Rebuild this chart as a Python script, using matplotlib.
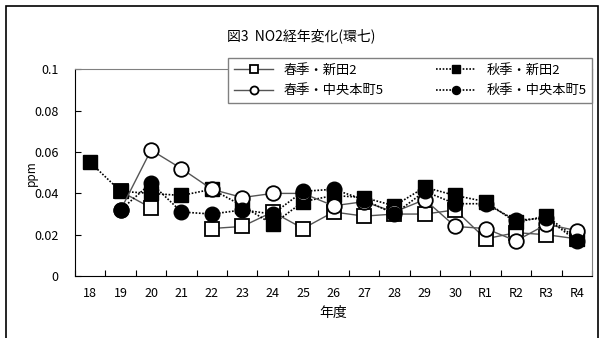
import numpy as np
import matplotlib
matplotlib.use('Agg')
import matplotlib.pyplot as plt
from matplotlib.patches import Rectangle

plt.rcParams['font.family'] = ['Noto Sans CJK JP', 'DejaVu Sans']

# 年度
years = ['18', '19', '20', '21', '22', '23', '24', '25', '26', '27', '28', '29', '30',
         'R1', 'R2', 'R3', 'R4']
nan = np.nan
# 春季・新田2
spring_nitta = [nan, 0.041, 0.033, nan, 0.023, 0.024, 0.031, 0.023, 0.031, 0.029, 0.030,
                0.030, 0.032, 0.018, 0.021, 0.020, 0.018]
# 秋季・新田2
autumn_nitta = [0.055, 0.041, 0.040, 0.039, 0.042, 0.034, 0.025, 0.036, 0.039, 0.038, 0.034,
                0.043, 0.039, 0.036, 0.026, 0.029, 0.018]
# 春季・中央本町5
spring_chuo = [nan, 0.032, 0.061, 0.052, 0.042, 0.038, 0.040, 0.040, 0.034, 0.036, 0.031,
               0.037, 0.024, 0.023, 0.017, 0.025, 0.022]
# 秋季・中央本町5
autumn_chuo = [nan, 0.032, 0.045, 0.031, 0.030, 0.032, 0.030, 0.041, 0.042, 0.037, 0.030,
               0.041, 0.035, 0.035, 0.027, 0.028, 0.017]

fig = plt.figure(figsize=(6.03, 3.38), dpi=100)
ax = fig.add_axes([0.1244, 0.1834, 0.8574, 0.611])

x = np.arange(len(years))
ms = 10.5
dots = (0, (1, 1))
l1, = ax.plot(x, spring_nitta, '-', color='#555555', lw=1, marker='s', ms=ms,
              mfc='white', mec='black', mew=1.3, zorder=2, label='春季・新田2')
l2, = ax.plot(x, autumn_nitta, ls=dots, color='black', lw=1.2, marker='s', ms=ms,
              mfc='black', mec='black', zorder=3, label='秋季・新田2')
l3, = ax.plot(x, spring_chuo, '-', color='#555555', lw=1, marker='o', ms=ms,
              mfc='white', mec='black', mew=1.3, zorder=4, label='春季・中央本町5')
l4, = ax.plot(x, autumn_chuo, ls=dots, color='black', lw=1.2, marker='o', ms=ms,
              mfc='black', mec='black', zorder=5, label='秋季・中央本町5')

ax.set_xlim(-0.5, len(years) - 0.5)
ax.set_ylim(0, 0.1)
ax.set_yticks([0, 0.02, 0.04, 0.06, 0.08, 0.1])
ax.set_yticklabels(['0', '0.02', '0.04', '0.06', '0.08', '0.1'])
ax.set_xticks(np.arange(len(years) + 1) - 0.5)
ax.set_xticklabels([])
ax.set_xticks(x, minor=True)
ax.set_xticklabels(years, minor=True)
ax.tick_params(axis='x', which='major', direction='in', length=4, width=0.8)
ax.tick_params(axis='x', which='minor', length=0, pad=8, labelsize=9)
ax.tick_params(axis='y', direction='in', length=4, width=0.8, labelsize=9, pad=12)

for s in ['top', 'right']:
    ax.spines[s].set_color('#808080')
for s in ['left', 'bottom']:
    ax.spines[s].set_color('black')

ax.set_ylabel('ppm', fontsize=8.5)
ax.yaxis.set_label_coords(-0.072, 0.5)
ax.set_xlabel('年度', fontsize=10, labelpad=4)
fig.text(0.5, 0.893, '図3  NO2経年変化(環七)', ha='center', va='center', fontsize=10)

leg = fig.legend(handles=[l1, l3, l2, l4], ncol=2, loc='center',
                 bbox_to_anchor=(0.378, 0.695, 0.604, 0.133), bbox_transform=fig.transFigure,
                 mode='expand', borderaxespad=0, fontsize=9.5, markerscale=0.55,
                 handlelength=3, fancybox=False, framealpha=1, edgecolor='#808080',
                 borderpad=0.45, labelspacing=0.55)
leg.get_frame().set_linewidth(1)

fig.patches.append(Rectangle((5.5 / 603, -0.01), 592.5 / 603, 1 - 5.5 / 338 + 0.01,
                             transform=fig.transFigure, fill=False, edgecolor='black', lw=1.2))

fig.savefig('out.png', dpi=100)
